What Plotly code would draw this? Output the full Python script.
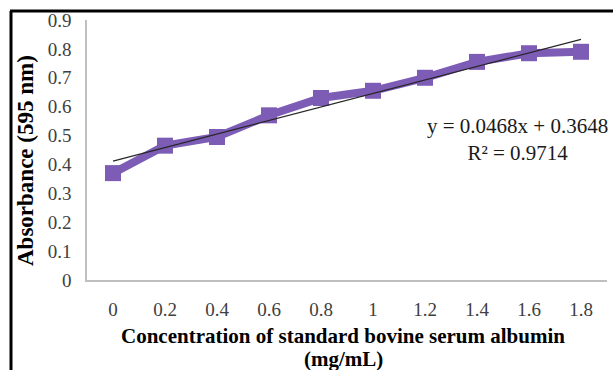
import plotly.graph_objects as go
import numpy as np

categories = ["0", "0.2", "0.4", "0.6", "0.8", "1", "1.2", "1.4", "1.6", "1.8"]
absorbance = [0.37, 0.465, 0.495, 0.57, 0.63, 0.655, 0.70, 0.755, 0.785, 0.79]
slope = 0.0468
intercept = 0.3648
r_squared = 0.9714
y_ticks = [0, 0.1, 0.2, 0.3, 0.4, 0.5, 0.6, 0.7, 0.8, 0.9]
y_tick_labels = ["0", "0.1", "0.2", "0.3", "0.4", "0.5", "0.6", "0.7", "0.8", "0.9"]

idx = np.arange(1, len(categories) + 1)
trend = slope * idx + intercept

W, H = 613, 370
ml, mr, mt, mb = 87, 6, 20, 90
pw = W - ml - mr
ph = H - mt - mb

def px_x(p):
    return (p - ml) / pw

def px_y(p):
    return 1 - (p - mt) / ph

fig = go.Figure()
fig.add_trace(go.Scatter(
    x=categories, y=absorbance, mode="lines+markers",
    line=dict(color="#7D5CB6", width=8),
    marker=dict(symbol="square", size=16, color="#7D5CB6"),
    showlegend=False,
))
fig.add_trace(go.Scatter(
    x=categories, y=trend, mode="lines",
    line=dict(color="#262626", width=1.2),
    showlegend=False,
))

serif = "Liberation Serif, Times New Roman, serif"
fig.update_layout(
    width=W, height=H,
    margin=dict(l=ml, r=mr, t=mt, b=mb),
    paper_bgcolor="white", plot_bgcolor="white",
    font=dict(family=serif, size=19, color="#404040"),
    xaxis=dict(
        type="category", range=[-0.5, 9.5],
        showline=True, linecolor="#BFBFBF", linewidth=1.5,
        showgrid=False, zeroline=False, ticks="",
        tickfont=dict(family=serif, size=19, color="#404040"),
        ticklabelstandoff=11,
    ),
    yaxis=dict(
        range=[0, 0.9], tickvals=y_ticks, ticktext=y_tick_labels,
        showline=True, linecolor="#BFBFBF", linewidth=1.5,
        showgrid=False, zeroline=False, ticks="",
        tickfont=dict(family=serif, size=19, color="#404040"),
        ticklabelstandoff=10,
    ),
)

fig.add_annotation(
    text="<b>Absorbance (595 nm)</b>", textangle=-90,
    xref="paper", yref="paper", x=px_x(25), y=px_y(161),
    xanchor="center", yanchor="middle", showarrow=False,
    font=dict(family=serif, size=23, color="#000000"),
)
fig.add_annotation(
    text="<b>Concentration of standard bovine serum albumin</b>",
    xref="paper", yref="paper", x=px_x(343), y=px_y(336),
    xanchor="center", yanchor="middle", showarrow=False,
    font=dict(family=serif, size=21, color="#000000"),
)
fig.add_annotation(
    text="<b>(mg/mL)</b>",
    xref="paper", yref="paper", x=px_x(343), y=px_y(359),
    xanchor="center", yanchor="middle", showarrow=False,
    font=dict(family=serif, size=21, color="#000000"),
)
fig.add_annotation(
    text=f"y = {slope}x + {intercept}<br>R² = {r_squared}",
    xref="paper", yref="paper", x=px_x(517), y=px_y(139),
    xanchor="center", yanchor="middle", showarrow=False, align="center",
    font=dict(family=serif, size=21, color="#1a1a1a"),
)

# outer frame (left and top edges visible)
fig.add_shape(type="line", xref="paper", yref="paper",
              x0=px_x(11), x1=px_x(11), y0=px_y(11), y1=px_y(375),
              line=dict(color="black", width=3))
fig.add_shape(type="line", xref="paper", yref="paper",
              x0=px_x(10), x1=px_x(620), y0=px_y(11), y1=px_y(11),
              line=dict(color="black", width=3))

fig.write_html("out.html")
